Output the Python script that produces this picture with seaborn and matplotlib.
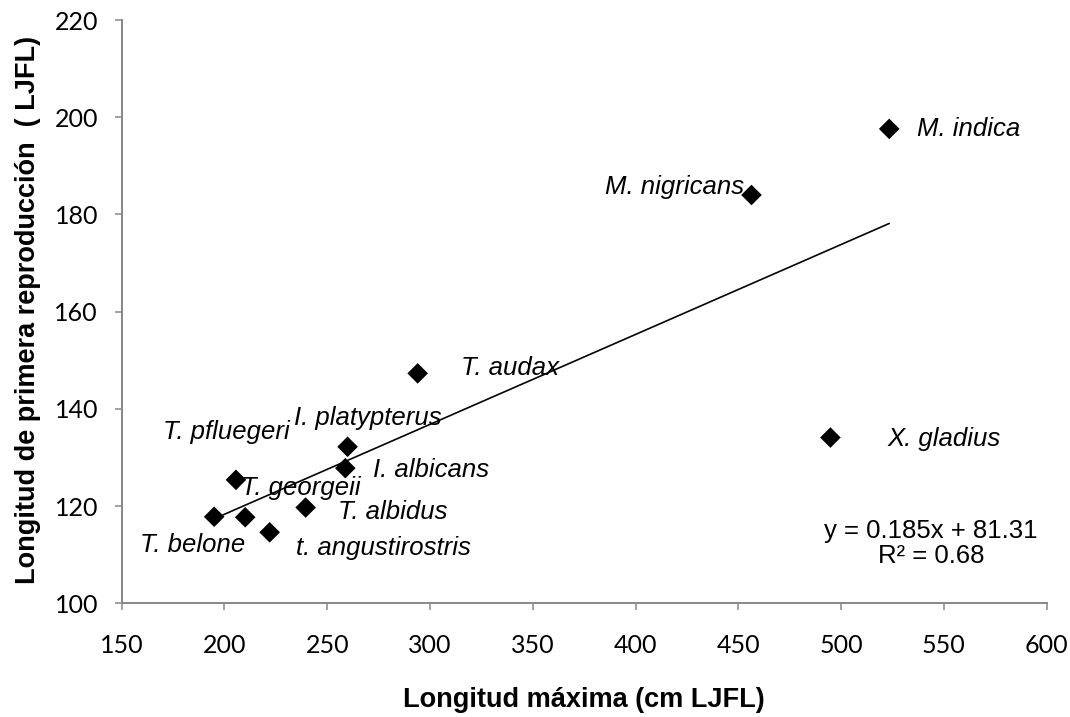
import matplotlib
matplotlib.use("Agg")
import matplotlib.pyplot as plt
import seaborn as sns
import pandas as pd
import numpy as np

# ---- data ----
species = ["T. belone", "T. georgeii", "T. pfluegeri", "t. angustirostris",
           "T. albidus", "I. platypterus", "I. albicans", "T. audax",
           "M. nigricans", "X. gladius", "M. indica"]
max_length = [195.0, 210.1, 205.6, 222.0, 239.5, 259.9, 258.8, 294.0, 456.4, 494.8, 523.4]
first_repro = [117.8, 117.7, 125.4, 114.6, 119.7, 132.2, 127.8, 147.3, 184.0, 134.1, 197.6]
slope = 0.185
intercept = 81.31
r2 = 0.68
x_ticks = [150, 200, 250, 300, 350, 400, 450, 500, 550, 600]
y_ticks = [100, 120, 140, 160, 180, 200, 220]

# label offsets (points) relative to each marker
label_offsets = [(-15.8, -20.4), (40.1, 21.1), (-7.2, 34.6), (81.6, -11.5),
                 (62.9, -3.2), (14.6, 20.4), (61.7, -1.2), (66.5, 3.8),
                 (-55.2, 5.8), (81.6, -0.7), (57.4, 0.0)]

df = pd.DataFrame({"x": max_length, "y": first_repro, "name": species})
xr = np.array([min(max_length), max(max_length)])
trend = pd.DataFrame({"x": xr, "y": slope * xr + intercept})

sns.set_style("white")
plt.rcParams["font.family"] = ["Liberation Sans", "DejaVu Sans"]
plt.rcParams["text.color"] = "black"
plt.rcParams["axes.labelcolor"] = "black"

fig = plt.figure(figsize=(10.7, 7.17), dpi=100)
ax = fig.add_axes([0.1137, 0.1586, 0.9782 - 0.1137, 0.9721 - 0.1586])

sns.lineplot(data=trend, x="x", y="y", color="black", linewidth=1.2, ax=ax)
sns.scatterplot(data=df, x="x", y="y", marker="D", s=110, color="black",
                edgecolor="none", linewidth=0, ax=ax, zorder=3)

for (xv, yv, name), (dx, dy) in zip(zip(max_length, first_repro, species), label_offsets):
    ax.annotate(name, (xv, yv), xytext=(dx, dy), textcoords="offset points",
                ha="center", va="center", fontsize=18.5, fontstyle="italic",
                color="black")

ax.text(0.875, 0.103, f"y = {slope}x + {intercept}\nR² = {r2}",
        transform=ax.transAxes, ha="center", va="center", ma="center",
        fontsize=18.5, color="black", linespacing=1.05)

ax.set_xlim(150, 600)
ax.set_ylim(100, 220)
ax.set_xticks(x_ticks)
ax.set_yticks(y_ticks)
ax.set_xticklabels([str(t) for t in x_ticks], fontfamily="Lato", fontsize=18)
ax.set_yticklabels([str(t) for t in y_ticks], fontfamily="Lato", fontsize=18)

for side in ["top", "right"]:
    ax.spines[side].set_visible(False)
for side in ["left", "bottom"]:
    ax.spines[side].set_color("#888888")
    ax.spines[side].set_linewidth(1.4)
ax.tick_params(axis="both", direction="out", length=5, width=1.1,
               color="#888888", labelcolor="black",
               bottom=True, left=True)
ax.tick_params(axis="x", pad=17)
ax.tick_params(axis="y", pad=12)

ax.set_xlabel("Longitud máxima (cm LJFL)", fontsize=19.5, fontweight="bold", color="black")
ax.set_ylabel("Longitud de primera reproducción  ( LJFL)", fontsize=19.5, fontweight="bold", color="black")
ax.xaxis.set_label_coords(0.5, -0.166)
ax.xaxis.label.set_va("center")
ax.yaxis.set_label_coords(-0.1013, 0.503)
ax.yaxis.label.set_va("center")

fig.savefig("out.png", dpi=100)
